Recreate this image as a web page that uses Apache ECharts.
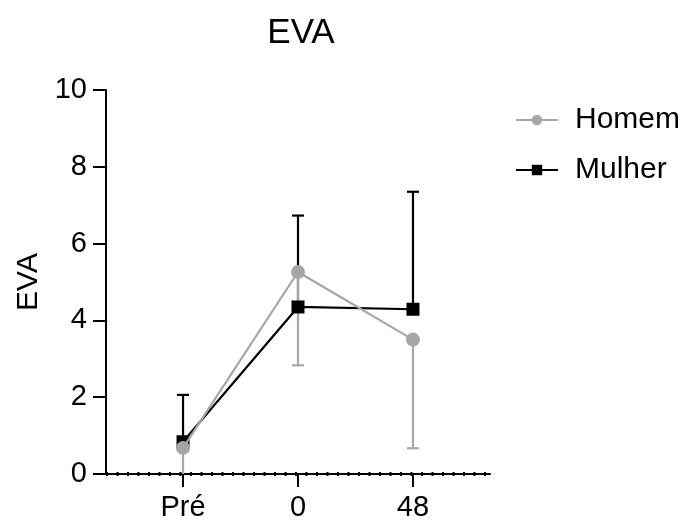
<!DOCTYPE html>
<html>
<head>
<meta charset="utf-8">
<script src="https://cdn.jsdelivr.net/npm/echarts@6/dist/echarts.min.js"></script>
<style>
  html, body { margin: 0; padding: 0; background: #fff; }
  #chart { width: 684px; height: 522px; }
</style>
</head>
<body>
<div id="chart"></div>
<script>
var categories = ['Pré', '0', '48'];
var homemMean = [0.68, 5.26, 3.50];
var homemErr = [0.9, 2.43, 2.83];   // shown downward
var mulherMean = [0.84, 4.35, 4.29];
var mulherErr = [1.22, 2.38, 3.06]; // shown upward

var font = 'Arial, "Liberation Sans", sans-serif';
var gray = '#a6a6a6';

function pts(means) {
  return means.map(function (v, i) { return [i, v]; });
}
function errData(means, errs, dir) {
  return means.map(function (v, i) { return [i, v, v + dir * errs[i]]; });
}
function errBar(color) {
  return function (params, api) {
    var p0 = api.coord([api.value(0), api.value(1)]);
    var p1 = api.coord([api.value(0), api.value(2)]);
    var cap = 6;
    var style = { stroke: color, lineWidth: 2.2 };
    return {
      type: 'group',
      children: [
        { type: 'line', shape: { x1: p0[0], y1: p0[1], x2: p1[0], y2: p1[1] }, style: style },
        { type: 'line', shape: { x1: p1[0] - cap, y1: p1[1], x2: p1[0] + cap, y2: p1[1] }, style: style }
      ]
    };
  };
}

var myChart = echarts.init(document.getElementById('chart'));

option = {
  animation: false,
  backgroundColor: '#fff',
  title: {
    text: 'EVA',
    left: 296,
    textAlign: 'center',
    top: 11,
    textStyle: { fontFamily: font, fontSize: 35, fontWeight: 'normal', color: '#000' }
  },
  legend: {
    orient: 'vertical',
    left: 510,
    top: 100,
    itemWidth: 42,
    itemHeight: 13,
    itemGap: 20,
    data: ['Homem', 'Mulher'],
    textStyle: { fontFamily: font, fontSize: 30, color: '#000', padding: [0, 0, 0, 12] }
  },
  grid: { left: 106, right: 194, top: 90, bottom: 47 },
  xAxis: {
    type: 'value',
    min: -0.67,
    max: 2.67,
    splitLine: { show: false },
    axisLine: { onZero: false, lineStyle: { color: '#000', width: 2 } },
    axisTick: { customValues: [0, 1, 2], length: 13, lineStyle: { color: '#000', width: 2 } },
    axisLabel: {
      customValues: [0, 1, 2],
      formatter: function (v) { return categories[Math.round(v)]; },
      fontFamily: font, fontSize: 29, color: '#000', margin: 19
    }
  },
  yAxis: {
    type: 'value',
    min: 0,
    max: 10,
    interval: 2,
    name: 'EVA',
    nameLocation: 'middle',
    nameGap: 60,
    nameRotate: 90,
    nameTextStyle: { fontFamily: font, fontSize: 30, color: '#000' },
    splitLine: { show: false },
    axisLine: { show: true, onZero: false, lineStyle: { color: '#000', width: 2 } },
    axisTick: { show: true, length: 13, lineStyle: { color: '#000', width: 2 } },
    axisLabel: { fontFamily: font, fontSize: 29, color: '#000', margin: 19 }
  },
  series: [
    {
      type: 'custom',
      name: 'MulherErr',
      renderItem: errBar('#000'),
      data: errData(mulherMean, mulherErr, 1),
      clip: true,
      z: 1,
      silent: true
    },
    {
      type: 'custom',
      name: 'HomemErr',
      renderItem: errBar(gray),
      data: errData(homemMean, homemErr, -1),
      clip: true,
      z: 1,
      silent: true
    },
    {
      name: 'Mulher',
      type: 'line',
      data: pts(mulherMean),
      symbol: 'rect',
      symbolSize: 13,
      color: '#000',
      lineStyle: { color: '#000', width: 2.2 },
      z: 2,
      markLine: {
        silent: true,
        symbol: 'none',
        label: { show: false },
        lineStyle: { color: '#000', type: [2, 8.5], width: 4 },
        data: [{ yAxis: 0 }]
      }
    },
    {
      name: 'Homem',
      type: 'line',
      data: pts(homemMean),
      symbol: 'circle',
      symbolSize: 14,
      color: gray,
      lineStyle: { color: gray, width: 2.2 },
      z: 3
    }
  ]
};

myChart.setOption(option);
</script>
</body>
</html>
